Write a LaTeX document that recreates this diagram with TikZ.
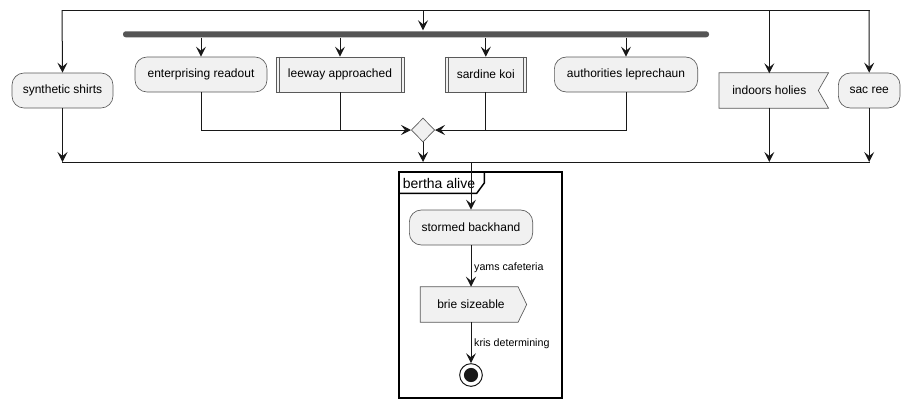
\documentclass[tikz,border=0pt]{standalone}
\usepackage{fontspec}
\setmainfont{Liberation Sans}
\usetikzlibrary{arrows.meta}
\usetikzlibrary{shapes.geometric}
\tikzset{>={Stealth[length=7.5pt,width=7.5pt,inset=3pt]}}
\definecolor{boxfill}{HTML}{F1F1F1}
\definecolor{boxedge}{HTML}{5A5A5A}
\definecolor{flowline}{HTML}{181818}
\definecolor{forkbar}{HTML}{555555}
\tikzset{
    actbox/.style={draw=boxedge, fill=boxfill, line width=0.5pt, rounded corners=9pt, minimum height=26.25pt, inner sep=0pt, font=\fontsize{9}{11}\selectfont},
    subbox/.style={draw=boxedge, fill=boxfill, line width=0.5pt, minimum height=26.25pt, inner sep=0pt, font=\fontsize{9}{11}\selectfont},
    flatbox/.style={minimum height=26.25pt, inner sep=0pt, font=\fontsize{9}{11}\selectfont},
    flow/.style={draw=flowline, line width=0.75pt},
    tag/.style={font=\fontsize{8}{10}\selectfont, anchor=west, inner sep=1pt}
}
\begin{document}
\begin{tikzpicture}[x=0.75pt, y=-0.75pt]
            \useasboundingbox (0, 0) rectangle (909, 408);
            % split and join lines
            \coordinate (splitL) at (62, 10);
            \coordinate (splitR) at (870, 10);
            \coordinate (joinL) at (62, 162);
            \coordinate (joinR) at (870, 162);
            \draw[flow] (splitL) -- (splitR);
            \draw[flow] (joinL) -- (joinR);
            % side actions
            \node[actbox, minimum width=75.75pt] (ss) at (62.5, 90.5) {synthetic shirts};
            \node[flatbox, minimum width=81.75pt] (ih) at (773.8, 90.5) {};
            \draw[boxedge, fill=boxfill, line width=0.5pt] (ih.north west) -- (ih.north east) -- (818.3, 90.5) -- (ih.south east) -- (ih.south west) -- cycle;
            \node[font=\fontsize{9}{11}\selectfont] at (769.3, 90.5) {indoors holies};
            \node[actbox, minimum width=46.25pt] (sr) at (869.2, 90.5) {sac ree};
            % fork
            \node[fill=forkbar, rounded corners=2pt, minimum width=439.5pt, minimum height=4.5pt, inner sep=0pt] (fork) at (416, 34.3) {};
            \node[actbox, minimum width=99pt] (er) at (201, 74.5) {enterprising readout};
            \node[subbox, minimum width=96pt] (lw) at (340, 74.5) {leeway approached};
            \node[subbox, minimum width=61.25pt] (sk) at (485.8, 74.5) {sardine koi};
            \node[actbox, minimum width=107.5pt] (al) at (626, 74.5) {authorities leprechaun};
            \foreach \n in {lw, sk} {
                \draw[boxedge, line width=0.5pt] ([xshift=2.6pt]\n.north west) -- ([xshift=2.6pt]\n.south west);
                \draw[boxedge, line width=0.5pt] ([xshift=-2.6pt]\n.north east) -- ([xshift=-2.6pt]\n.south east);
            }
            \node[diamond, draw=boxedge, fill=boxfill, line width=0.5pt, inner sep=0pt, minimum width=17.5pt, minimum height=18pt] (mg) at (423, 130) {};
            % connectors
            \draw[flow, ->] (splitL) -- (ss.north);
            \draw[flow, ->] (splitL -| fork.north) ++(7, 0) -- ++(0, 20.3) coordinate (forkin);
            \draw[flow, ->] (splitL -| ih.north) ++(-4.5, 0) -- (769.3, 73.3);
            \draw[flow, ->] (splitR) ++(-1, 0) -- (sr.north);
            \foreach \n in {er, lw, sk, al} {
                \draw[flow, ->] (fork.south -| \n.north) -- (\n.north);
            }
            \draw[flow, ->] (er.south) |- (mg.west);
            \draw[flow] (lw.south) -- (lw.south |- mg.west);
            \draw[flow, ->] (al.south) |- (mg.east);
            \draw[flow] (sk.south) -- (sk.south |- mg.east);
            \draw[flow, ->] (mg.south) -- (mg.south |- joinL);
            \draw[flow, ->] (ss.south) -- (ss.south |- joinL);
            \draw[flow, ->] (769.3, 107.7) -- (769.3, 162);
            \draw[flow, ->] (sr.south) -- (sr.south |- joinL);
            % group
            \draw[black, line width=1.1pt] (399, 172) rectangle (562, 398);
            \draw[black, line width=1.1pt] (399, 193.3) -- (476.7, 193.3) -- (484.3, 183) -- (484.3, 172);
            \node[font=\fontsize{10.5}{12}\selectfont, anchor=west, inner sep=0pt] (ga) at (402.5, 183.3) {bertha alive};
            \node[actbox, minimum width=92.5pt] (sb) at (471, 227.5) {stormed backhand};
            \node[flatbox, minimum width=75.75pt] (bs) at (471, 304.5) {};
            \draw[boxedge, fill=boxfill, line width=0.5pt] (bs.north west) -- (518, 286.7) -- (526.7, 304.5) -- (518, 322.3) -- (bs.south west) -- cycle;
            \node[font=\fontsize{9}{11}\selectfont] at (471, 304.5) {brie sizeable};
            \node[circle, draw=flowline, line width=0.75pt, minimum size=17pt, inner sep=0pt] (end) at (471, 375) {};
            \fill[flowline] (end) circle [radius=5.3pt];
            \draw[flow, ->] (471, 162) -- (sb.north);
            \draw[flow, ->] (sb.south) -- (bs.north) node[tag, midway, xshift=1pt, yshift=-1pt] {yams cafeteria};
            \draw[flow, ->] (bs.south) -- (end.north) node[tag, midway, xshift=1pt, yshift=-1pt] {kris determining};
        \end{tikzpicture}
\end{document}
